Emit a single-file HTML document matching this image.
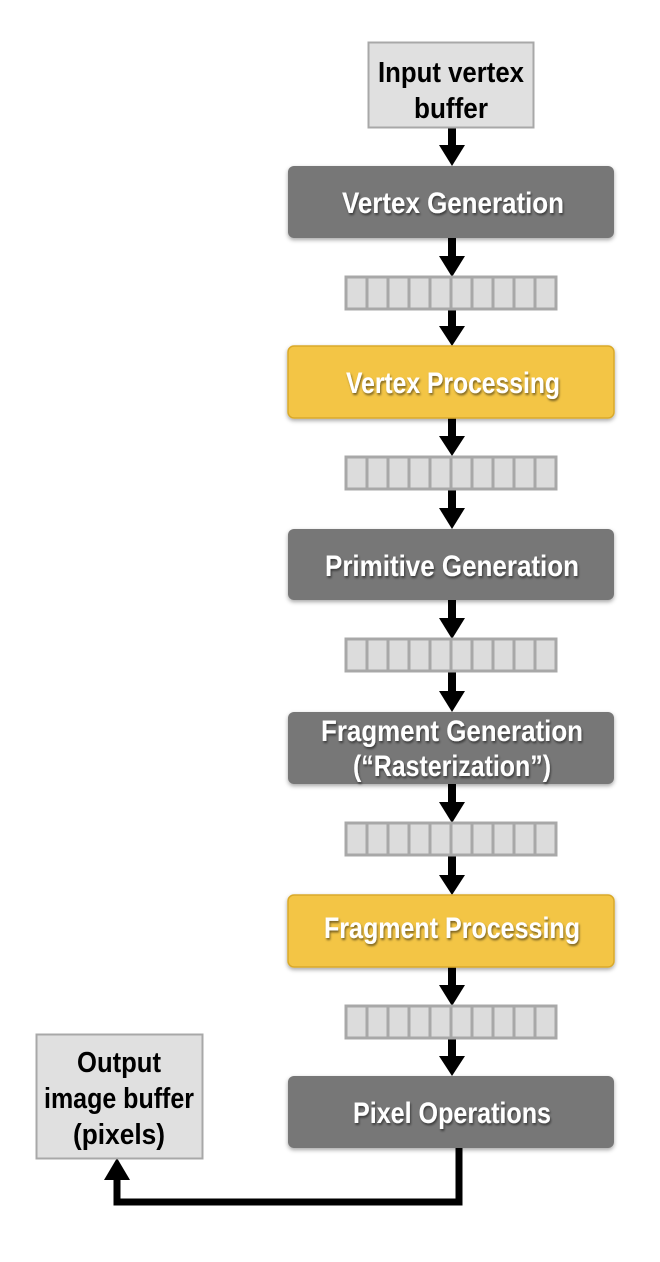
<!DOCTYPE html>
<html><head><meta charset="utf-8"><style>
html,body{margin:0;padding:0;background:#fff;}
svg{display:block}
text{font-family:"Liberation Sans Narrow","Liberation Sans",sans-serif;font-weight:bold;}
</style></head><body>
<svg width="660" height="1262" viewBox="0 0 660 1262" xmlns="http://www.w3.org/2000/svg">
<defs>
<filter id="sh" x="-10%" y="-20%" width="120%" height="150%"><feDropShadow dx="0" dy="2" stdDeviation="2" flood-color="#000" flood-opacity="0.35"/></filter>
<filter id="ts" x="-10%" y="-30%" width="120%" height="160%"><feDropShadow dx="1" dy="2" stdDeviation="1" flood-color="#000" flood-opacity="0.5"/></filter>
<g id="q">
<rect x="0" y="0" width="210" height="32" fill="#dcdcdc" stroke="#a8a8a8" stroke-width="3"/>
<g stroke="#a8a8a8" stroke-width="3">
<line x1="21" y1="0" x2="21" y2="32"/><line x1="42" y1="0" x2="42" y2="32"/><line x1="63" y1="0" x2="63" y2="32"/><line x1="84" y1="0" x2="84" y2="32"/><line x1="105" y1="0" x2="105" y2="32"/><line x1="126" y1="0" x2="126" y2="32"/><line x1="147" y1="0" x2="147" y2="32"/><line x1="168" y1="0" x2="168" y2="32"/><line x1="189" y1="0" x2="189" y2="32"/>
</g></g>
</defs>

<g fill="#000">
<rect x="448" y="127" width="8" height="20"/><polygon points="439,145 465,145 452,166"/>
<rect x="448" y="238" width="8" height="20"/><polygon points="439,256 465,256 452,277"/>
<rect x="448" y="308" width="8" height="20"/><polygon points="439,326 465,326 452,346"/>
<rect x="448" y="418" width="8" height="20"/><polygon points="439,436 465,436 452,456"/>
<rect x="448" y="488" width="8" height="22"/><polygon points="439,508 465,508 452,529"/>
<rect x="448" y="600" width="8" height="20"/><polygon points="439,618 465,618 452,639"/>
<rect x="448" y="671" width="8" height="22"/><polygon points="439,691 465,691 452,712"/>
<rect x="448" y="784" width="8" height="20"/><polygon points="439,802 465,802 452,823"/>
<rect x="448" y="855" width="8" height="22"/><polygon points="439,875 465,875 452,895"/>
<rect x="448" y="967" width="8" height="20"/><polygon points="439,985 465,985 452,1006"/>
<rect x="448" y="1038" width="8" height="20"/><polygon points="439,1056 465,1056 452,1076"/>
</g>
<polyline points="459,1148 459,1202 117,1202 117,1178" fill="none" stroke="#000" stroke-width="7"/>
<polygon points="104,1180 130,1180 117,1158" fill="#000"/>

<rect x="368.5" y="42.5" width="165" height="85" fill="#e0e0e0" stroke="#a8a8a8" stroke-width="2"/>
<text x="451" y="82" font-size="29" text-anchor="middle" fill="#000" textLength="146" lengthAdjust="spacingAndGlyphs">Input vertex</text>
<text x="451" y="118" font-size="29" text-anchor="middle" fill="#000" textLength="74" lengthAdjust="spacingAndGlyphs">buffer</text>

<rect x="36.5" y="1034.5" width="166" height="124" fill="#e0e0e0" stroke="#a8a8a8" stroke-width="2"/>
<text x="119" y="1072" font-size="29" text-anchor="middle" fill="#000" textLength="84" lengthAdjust="spacingAndGlyphs">Output</text>
<text x="119" y="1108" font-size="29" text-anchor="middle" fill="#000" textLength="150" lengthAdjust="spacingAndGlyphs">image buffer</text>
<text x="119" y="1144" font-size="29" text-anchor="middle" fill="#000" textLength="92" lengthAdjust="spacingAndGlyphs">(pixels)</text>

<g filter="url(#sh)">
<rect x="288" y="166" width="326" height="72" rx="6" fill="#777"/>
<rect x="288" y="346" width="326" height="72" rx="6" fill="#f3c545" stroke="#d9a92a" stroke-width="1.5"/>
<rect x="288" y="529" width="326" height="71" rx="6" fill="#777"/>
<rect x="288" y="712" width="326" height="72" rx="6" fill="#777"/>
<rect x="288" y="895" width="326" height="72" rx="6" fill="#f3c545" stroke="#d9a92a" stroke-width="1.5"/>
<rect x="288" y="1076" width="326" height="72" rx="6" fill="#777"/>
</g>
<g fill="#fff" font-size="30" text-anchor="middle" filter="url(#ts)">
<text x="453" y="213" textLength="222" lengthAdjust="spacingAndGlyphs">Vertex Generation</text>
<text x="453" y="393" textLength="214" lengthAdjust="spacingAndGlyphs">Vertex Processing</text>
<text x="452" y="576" textLength="254" lengthAdjust="spacingAndGlyphs">Primitive Generation</text>
<text x="452" y="741" textLength="262" lengthAdjust="spacingAndGlyphs">Fragment Generation</text>
<text x="452" y="776" textLength="198" lengthAdjust="spacingAndGlyphs">(“Rasterization”)</text>
<text x="452" y="938" textLength="256" lengthAdjust="spacingAndGlyphs">Fragment Processing</text>
<text x="452" y="1123" textLength="198" lengthAdjust="spacingAndGlyphs">Pixel Operations</text>
</g>

<use href="#q" x="346" y="277"/>
<use href="#q" x="346" y="457"/>
<use href="#q" x="346" y="639"/>
<use href="#q" x="346" y="823"/>
<use href="#q" x="346" y="1006"/>
</svg>
</body></html>
